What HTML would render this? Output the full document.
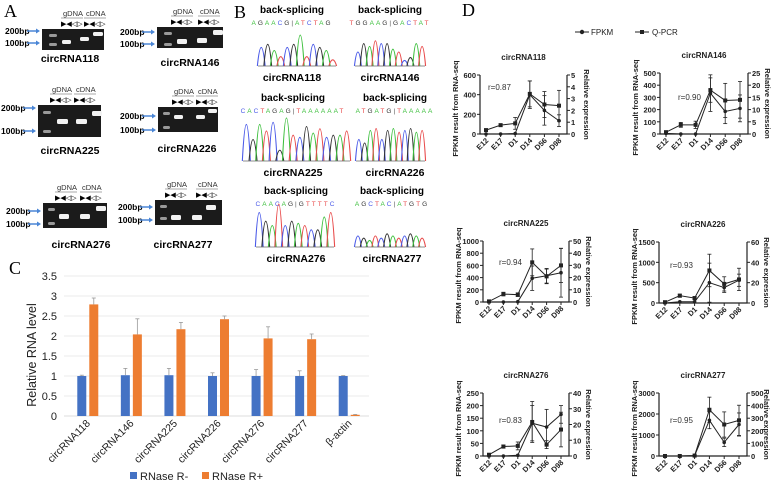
<!DOCTYPE html>
<html><head><meta charset="utf-8"><style>
html,body{margin:0;padding:0;background:#fff;}
svg{display:block;font-family:"Liberation Sans",sans-serif;}
</style></head><body>
<svg id="fig" width="777" height="484" viewBox="0 0 777 484">
<g font-family="Liberation Serif,serif" font-size="18">
<text x="4" y="17">A</text>
<text x="234" y="18">B</text>
<text x="9" y="274">C</text>
<text x="462" y="16">D</text>
</g>
<g id="panelA"></g>
<g id="panelB"></g>
<g id="panelC"></g>
<g id="panelD"></g>
</svg>
<script>
// ===== Panel C data =====
const cCategories=["circRNA118","circRNA146","circRNA225","circRNA226","circRNA276","circRNA277","β-actin"];
const cMinus=[1,1.02,1.02,1,1,1,1];
const cMinusErr=[0.02,0.17,0.17,0.08,0.16,0.13,0.01];
const cPlus=[2.79,2.04,2.17,2.42,1.94,1.92,0.03];
const cPlusErr=[0.16,0.39,0.17,0.08,0.29,0.13,0.01];
const cTicks=[0,0.5,1,1.5,2,2.5,3,3.5];
const cTickLabels=["0","0.5","1","1.5","2","2.5","3","3.5"];
// ===== Panel D data =====
const dDays=["E12","E17","D1","D14","D56","D98"];
const d118F=[0,0,5,400,240,135], d118FE=[0,0,0,140,150,60];
const d118Q=[0.33,0.75,0.9,3.4,2.5,2.4], d118QE=[0.05,0.1,0.5,1.1,1.1,1.3];
const d146F=[5,0,0,335,185,210], d146FE=[5,0,0,150,100,110];
const d146Q=[0.75,3.75,3.75,18,13.75,14], d146QE=[0.5,1,1.5,5,7,7.5];
const d225F=[0,0,5,390,430,480], d225FE=[0,0,0,200,120,400];
const d225Q=[0.5,6.5,6,32.5,21,30], d225QE=[0.3,1.5,1.5,11,6,14];
const d226F=[0,30,30,500,380,560], d226FE=[0,0,0,480,120,150];
const d226Q=[0.8,7.2,4.8,32,18.8,23.2], d226QE=[0.3,1.5,1.5,16,7,11];
const d276F=[0,0,3,130,115,165], d276FE=[0,0,0,70,70,35];
const d276Q=[0.8,6,6.4,21.6,7.2,16.8], d276QE=[0.3,1,2.5,13,2.5,11];
const d277F=[0,0,20,1700,650,1500], d277FE=[0,0,0,400,200,550];
const d277Q=[0,0,3.3,367,250,283], d277QE=[0,0,1,100,100,120];
const dLeftTicks118=[0,200,400,600], dRightTicks118=[0,1,2,3,4,5];
const dLeftTicks146=[0,100,200,300,400,500], dRightTicks146=[0,5,10,15,20,25];
const dLeftTicks225=[0,200,400,600,800,1000], dRightTicks225=[0,10,20,30,40,50];
const dLeftTicks226=[0,500,1000,1500], dRightTicks226=[0,20,40,60];
const dLeftTicks276=[0,50,100,150,200,250], dRightTicks276=[0,10,20,30,40];
const dLeftTicks277=[0,1000,2000,3000], dRightTicks277=[0,100,200,300,400,500];

const NS="http://www.w3.org/2000/svg";
function mk(tag,attrs,parent,text){const e=document.createElementNS(NS,tag);for(const k in attrs)e.setAttribute(k,attrs[k]);if(text!==undefined)e.textContent=text;parent.appendChild(e);return e;}

// ===== Panel A =====
const A=document.getElementById('panelA');
const gels=[
 {name:"circRNA118",x:42,y:29,w:62,h:21,lx:5,y2:31,y1:43,tx:70,ty:62,lab:[63,86],bands:[[7,5,8,1],[7,14,8,1],[20,11,9,2],[38,8,9,2],[51,3,10,2]]},
 {name:"circRNA146",x:157,y:27,w:66,h:21,lx:120,y2:32,y1:44,tx:190,ty:66,lab:[173,200],bands:[[7,5,8,1],[7,16,8,1],[20,12,10,3],[40,11,10,3],[56,3,10,3]]},
 {name:"circRNA225",x:38,y:105,w:63,h:32,lx:1,y2:108,y1:131,tx:70,ty:154,lab:[52,76],bands:[[5,6,8,1],[5,25,8,1],[19,14,11,3],[38,14,11,3],[54,6,10,3]]},
 {name:"circRNA226",x:158,y:107,w:60,h:25,lx:120,y2:116,y1:130,tx:187,ty:152,lab:[174,198],bands:[[5,5,7,1],[5,19,7,1],[16,8,9,2],[38,8,9,2],[50,2,9,2]]},
 {name:"circRNA276",x:43,y:203,w:64,h:25,lx:6,y2:211,y1:224,tx:81,ty:248,lab:[57,82],bands:[[5,5,7,1],[5,19,7,1],[16,11,10,3],[37,11,10,3],[53,3,10,3]]},
 {name:"circRNA277",x:155,y:200,w:67,h:25,lx:118,y2:207,y1:220,tx:183,ty:248,lab:[167,198],bands:[[5,5,7,1],[5,17,7,1],[16,15,10,3],[37,15,10,3],[51,5,10,3]]}
];
gels.forEach(g=>{
 const grp=mk('g',{},A);
 
 
 const r=mk('rect',{x:g.x,y:g.y,width:g.w,height:g.h,fill:'#1b1b1b'},grp);
 
 
 g.bands.forEach((b,i)=>{
  const br=mk('rect',{x:g.x+b[0],y:g.y+b[1],width:b[2],height:b[3]+2,rx:1.5,fill:i<2?'#9a9a9a':'#f2f2f2'},grp);
  
  
 });
 [[g.y2,'200bp'],[g.y1,'100bp']].forEach(([yy,t])=>{
  const tt=mk('text',{x:g.lx,y:yy+3,'font-size':8.5,'font-weight':'bold'},grp,t);
  
  
  const ax0=g.lx+22, ax1=g.x-2;
  const ar=mk('line',{x1:ax0,y1:yy,x2:ax1-3,y2:yy,stroke:'#4a86d6','stroke-width':1.5},grp);
  
  
  mk('polygon',{points:`${ax1},${yy} ${ax1-4},${yy-2.5} ${ax1-4},${yy+2.5}`,fill:'#4a86d6'},grp);
 });
 [['gDNA',g.lab[0]],['cDNA',g.lab[1]]].forEach(([t,xx])=>{
  const tt=mk('text',{x:xx,y:g.y-13,'font-size':7.5,fill:'#333'},grp,t);
  
  
  mk('line',{x1:xx-2,y1:g.y-11,x2:xx+20,y2:g.y-11,stroke:'#555','stroke-width':0.6},grp);
  mk('text',{x:xx-2,y:g.y-3,'font-size':7},grp,'▶◀◁▷');
 });
 const lt=mk('text',{x:g.tx,y:g.ty,'font-size':10.5,'font-weight':'bold','text-anchor':'middle'},grp,g.name);
 
 
});

// ===== Panel B =====
const B=document.getElementById('panelB');
const chroms=[
 {name:"circRNA118",cx:292,ty:8,seq:"AGAACG|ATCTAG",x0:258,x1:336,base:66,top:35,ly:76,pk:[0.6,0.7,0.5,0.3,0.6,0.7,1,0.3,0.7,0.6,0.5,0.2]},
 {name:"circRNA146",cx:390,ty:8,seq:"TGGAAG|GACTAT",x0:355,x1:425,base:66,top:38,ly:76,pk:[0.5,0.8,0.7,0.9,0.8,0.8,0.6,0.5,0.2,0.3,0.8,0.7]},
 {name:"circRNA225",cx:293,ty:96,seq:"CACTAGAG|TAAAAAAT",x0:243,x1:350,base:161,top:118,ly:171,pk:[0.85,0.5,0.85,0.7,0.9,0.25,1,0.6,0.55,0.8,0.65,0.75,0.55,0.6,0.6,0.7]},
 {name:"circRNA226",cx:395,ty:96,seq:"ATGATG|TAAAAA",x0:356,x1:425,base:161,top:125,ly:171,pk:[0.6,0.5,0.85,0.9,0.6,0.85,0.9,0.8,0.85,0.9,0.8,0.85]},
 {name:"circRNA276",cx:296,ty:189,seq:"CAACAG|GTTTTC",x0:256,x1:334,base:247,top:204,ly:257,pk:[0.8,0.6,0.5,1,0.5,0.6,0.55,0.5,0.4,0.4,0.7,0.8]},
 {name:"circRNA277",cx:392,ty:189,seq:"AGCTAC|ATGTG",x0:355,x1:425,base:247,top:225,ly:257,pk:[0.5,0.4,0.3,0.5,0.4,0.6,0.5,0.4,0.5,0.6,0.5,0.4]}
];
const baseCol={A:'#3cbf3c',G:'#333333',C:'#4a5ae8',T:'#e84a4a'};
const pkCols=['#3cbf3c','#333','#4a5ae8','#e84a4a'];
chroms.forEach(c=>{
 const grp=mk('g',{},B);
 
 
 const h=mk('text',{x:c.cx,y:c.ty+5,'font-size':10,'font-weight':'bold','text-anchor':'middle'},grp,'back-splicing');
 
 
 const seq=mk('text',{x:c.cx,y:c.ty+17,'font-size':6.5,'text-anchor':'middle','letter-spacing':'2'},grp);
 
 
 for(const ch of c.seq){const s=document.createElementNS(NS,'tspan');s.setAttribute('fill',baseCol[ch]||'#555');s.textContent=ch;seq.appendChild(s);}
 const n=c.pk.length, sp=(c.x1-c.x0)/n;
 c.pk.forEach((p,i)=>{
  const px=c.x0+sp*(i+0.5), py=c.base-(c.base-c.top)*p;
  mk('path',{d:`M${px-sp*0.6},${c.base} Q${px},${2*py-c.base} ${px+sp*0.6},${c.base}`,fill:'none',stroke:pkCols[(i*3+c.name.length)%4],'stroke-width':1.1},grp);
 });
 mk('line',{x1:c.x0,y1:c.base,x2:c.x1,y2:c.base,stroke:'#666','stroke-width':0.8},grp);
 const l=mk('text',{x:c.cx,y:c.ly+5,'font-size':10.5,'font-weight':'bold','text-anchor':'middle'},grp,c.name);
 
 
});

// ===== Panel C =====
const C=document.getElementById('panelC');
const cx0=64,cx1=369,cyb=416,cpu=40;
const cy=v=>cyb-v*cpu;
const cStep=(cx1-cx0)/cCategories.length;
cTicks.forEach((t,i)=>{
 const gl=mk('line',{x1:cx0,x2:cx1,y1:cy(t),y2:cy(t),stroke:i===0?'#d0d0d0':'#e4e4e4','stroke-width':0.8},C);
 
 
 const tl=mk('text',{x:57,y:cy(t)+4,'font-size':11,'text-anchor':'end',fill:'#222'},C,cTickLabels[i]);
 
 
});
const yt=mk('text',{x:0,y:0,'font-size':12.5,'text-anchor':'middle',transform:`translate(36,355) rotate(-90)`,fill:'#222'},C,'Relative RNA level');


cCategories.forEach((cat,i)=>{
 const gc=cx0+cStep*(i+0.5)+2;
 [[cMinus,cMinusErr,'#4472c4',-10.5],[cPlus,cPlusErr,'#ed7d31',1.5]].forEach(([vals,errs,col,off],si)=>{
  const v=vals[i];
  const bar=mk('rect',{x:gc+off,y:cy(v),width:9,height:cyb-cy(v),fill:col},C);
  
  
  const ex=gc+off+4.5;
  const el=mk('line',{x1:ex,x2:ex,y1:cy(v),y2:cy(v+errs[i]),stroke:'#999','stroke-width':0.8},C);
  
  
  mk('line',{x1:ex-2,x2:ex+2,y1:cy(v+errs[i]),y2:cy(v+errs[i]),stroke:'#999','stroke-width':0.8},C);
 });
 const xl=mk('text',{x:0,y:0,'font-size':10.5,'text-anchor':'end',transform:`translate(${gc+3},424) rotate(-45)`,fill:'#222'},C,cat);
 
 
});
[[130,'#4472c4','RNase R-'],[202,'#ed7d31','RNase R+']].forEach(([x,col,t])=>{
 const lg=mk('g',{},C);
 
 
 mk('rect',{x:x,y:472,width:7,height:7,fill:col},lg);
 mk('text',{x:x+10,y:480,'font-size':11,fill:'#222'},lg,t);
});

// ===== Panel D =====
const D=document.getElementById('panelD');
const lg=mk('g',{},D);


mk('line',{x1:575,x2:589,y1:32,y2:32,stroke:'#222','stroke-width':1},lg);
mk('circle',{cx:582,cy:32,r:2.2,fill:'#222'},lg);
mk('text',{x:591,y:35,'font-size':8,fill:'#222'},lg,'FPKM');
mk('line',{x1:635,x2:649,y1:32,y2:32,stroke:'#222','stroke-width':1},lg);
mk('rect',{x:640,y:30,width:4,height:4,fill:'#222'},lg);
mk('text',{x:652,y:35,'font-size':8,fill:'#222'},lg,'Q-PCR');

const charts=[
 {name:'circRNA118',l:480,r:567,t:75,b:134,lt:dLeftTicks118,rt:dRightTicks118,F:d118F,FE:d118FE,Q:d118Q,QE:d118QE,rl:'r=0.87',rx:488,ry:90},
 {name:'circRNA146',l:660,r:748,t:73,b:134,lt:dLeftTicks146,rt:dRightTicks146,F:d146F,FE:d146FE,Q:d146Q,QE:d146QE,rl:'r=0.90',rx:678,ry:100},
 {name:'circRNA225',l:483,r:569,t:241,b:302,lt:dLeftTicks225,rt:dRightTicks225,F:d225F,FE:d225FE,Q:d225Q,QE:d225QE,rl:'r=0.94',rx:499,ry:265},
 {name:'circRNA226',l:659,r:747,t:242,b:303,lt:dLeftTicks226,rt:dRightTicks226,F:d226F,FE:d226FE,Q:d226Q,QE:d226QE,rl:'r=0.93',rx:670,ry:268},
 {name:'circRNA276',l:483,r:569,t:393,b:456,lt:dLeftTicks276,rt:dRightTicks276,F:d276F,FE:d276FE,Q:d276Q,QE:d276QE,rl:'r=0.83',rx:499,ry:423},
 {name:'circRNA277',l:659,r:747,t:393,b:456,lt:dLeftTicks277,rt:dRightTicks277,F:d277F,FE:d277FE,Q:d277Q,QE:d277QE,rl:'r=0.95',rx:670,ry:423}
];
charts.forEach(c=>{
 const g=mk('g',{},D);
 
 
 const lmax=c.lt[c.lt.length-1], rmax=c.rt[c.rt.length-1];
 const yl=v=>c.b-(v/lmax)*(c.b-c.t);
 const yr=v=>c.b-(v/rmax)*(c.b-c.t);
 const x0=c.l+6, x1=c.r-8;
 const xs=i=>x0+i*(x1-x0)/(dDays.length-1);
 const ax=mk('path',{d:`M${c.l},${c.t} V${c.b} H${c.r} V${c.t}`,fill:'none',stroke:'#222','stroke-width':1.2},g);
 
 
 c.lt.forEach(t=>{
  mk('line',{x1:c.l-3,x2:c.l,y1:yl(t),y2:yl(t),stroke:'#222'},g);
  const tl=mk('text',{x:c.l-4,y:yl(t)+3,'font-size':7.5,'font-weight':'bold','text-anchor':'end',fill:'#222'},g,t);
  
  
 });
 c.rt.forEach(t=>{
  mk('line',{x1:c.r,x2:c.r+3,y1:yr(t),y2:yr(t),stroke:'#222'},g);
  const tl=mk('text',{x:c.r+4,y:yr(t)+3,'font-size':7.5,'font-weight':'bold',fill:'#222'},g,t);
  
  
 });
 dDays.forEach((d,i)=>{
  mk('line',{x1:xs(i),x2:xs(i),y1:c.b,y2:c.b+3,stroke:'#222'},g);
  const tl=mk('text',{x:0,y:0,'font-size':7.5,'font-weight':'bold','text-anchor':'end',transform:`translate(${xs(i)+3},${c.b+7}) rotate(-45)`,fill:'#222'},g,d);
  
  
 });
 const tt=mk('text',{x:(c.l+c.r)/2,y:c.t-15,'font-size':8,'font-weight':'bold','text-anchor':'middle',fill:'#222'},g,c.name);
 
 
 const ylab=mk('text',{x:0,y:0,'font-size':7.5,'font-weight':'bold','text-anchor':'middle',transform:`translate(${c.l-22},${(c.t+c.b)/2+4}) rotate(-90)`,fill:'#222'},g,'FPKM result from RNA-seq');
 
 
 const rlab=mk('text',{x:0,y:0,'font-size':7.5,'font-weight':'bold','text-anchor':'middle',transform:`translate(${c.r+17},${(c.t+c.b)/2}) rotate(90)`,fill:'#222'},g,'Relative expression');
 
 
 const rr=mk('text',{x:c.rx,y:c.ry,'font-size':8,fill:'#333'},g,c.rl);
 
 
 [[c.F,c.FE,yl,'fpkm'],[c.Q,c.QE,yr,'qpcr']].forEach(([vals,errs,ys,nm])=>{
  const pts=vals.map((v,i)=>`${xs(i)},${ys(v)}`).join(' ');
  const ln=mk('polyline',{points:pts,fill:'none',stroke:'#222','stroke-width':1},g);
  
  
  vals.forEach((v,i)=>{
   if(errs[i]>0){
    const e=mk('line',{x1:xs(i),x2:xs(i),y1:ys(Math.max(0,v-errs[i])),y2:ys(v+errs[i]),stroke:'#222','stroke-width':0.8},g);
    
    
    mk('line',{x1:xs(i)-2,x2:xs(i)+2,y1:ys(v+errs[i]),y2:ys(v+errs[i]),stroke:'#222','stroke-width':0.8},g);
    mk('line',{x1:xs(i)-2,x2:xs(i)+2,y1:ys(Math.max(0,v-errs[i])),y2:ys(Math.max(0,v-errs[i])),stroke:'#222','stroke-width':0.8},g);
   }
   let m;
   if(nm==='fpkm') m=mk('circle',{cx:xs(i),cy:ys(v),r:1.8,fill:'#222'},g);
   else m=mk('rect',{x:xs(i)-2,y:ys(v)-2,width:4,height:4,fill:'#222'},g);
   
   
  });
 });
});
</script>
</body></html>
